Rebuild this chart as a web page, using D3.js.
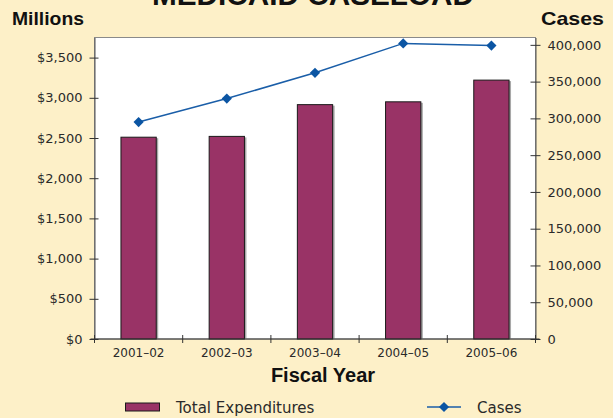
<!DOCTYPE html>
<html>
<head>
<meta charset="utf-8">
<script src="https://cdn.jsdelivr.net/npm/d3@7"></script>
<style>
  html, body { margin: 0; padding: 0; background: #fdf0c8; }
  svg { display: block; }
</style>
</head>
<body>
<svg id="chart" width="613" height="418"></svg>
<script>
// Medicaid expenditures (millions of dollars) and caseload by fiscal year
const years = ["2001–02", "2002–03", "2003–04", "2004–05", "2005–06"];
const expenditures = [2510, 2520, 2915, 2950, 3220];
const cases = [295000, 327000, 362000, 402000, 399000];
const leftTicks = [0, 500, 1000, 1500, 2000, 2500, 3000, 3500];
const rightTicks = [0, 50000, 100000, 150000, 200000, 250000, 300000, 350000, 400000];

const svg = d3.select("#chart");
const W = 613, H = 418;
const plot = { left: 94.5, right: 535.5, top: 37.5, bottom: 339 };

const x = d3.scaleBand().domain(years).range([plot.left, plot.right]).paddingInner(0).paddingOuter(0);
const yL = d3.scaleLinear().domain([0, 3750]).range([plot.bottom, plot.top]);
const yR = d3.scaleLinear().domain([0, 410000]).range([plot.bottom, plot.top]);

const barColor = "#993366";
const lineColor = "#1a5ea8";
const markColor = "#0b55a3";
const textColor = "#2a2a2a";
const tickFont = "'DejaVu Sans', sans-serif";
const boldFont = "'Liberation Sans', Arial, sans-serif";

svg.append("rect").attr("width", W).attr("height", H).attr("fill", "#fdf0c8");

// Title (runs off the top edge)
svg.append("text")
  .attr("x", 313).attr("y", 5)
  .attr("text-anchor", "middle")
  .attr("font-family", boldFont)
  .attr("font-weight", "bold")
  .attr("font-size", 30)
  .attr("textLength", 322)
  .attr("lengthAdjust", "spacingAndGlyphs")
  .attr("fill", "#111")
  .text("MEDICAID CASELOAD");

// Axis titles
svg.append("text").attr("x", 12).attr("y", 25)
  .attr("font-family", boldFont).attr("font-weight", "bold")
  .attr("font-size", 19).attr("textLength", 72).attr("lengthAdjust", "spacingAndGlyphs")
  .attr("fill", "#111").text("Millions");
svg.append("text").attr("x", 541).attr("y", 25)
  .attr("font-family", boldFont).attr("font-weight", "bold")
  .attr("font-size", 19).attr("textLength", 63).attr("lengthAdjust", "spacingAndGlyphs")
  .attr("fill", "#111").text("Cases");

// Plot background
svg.append("rect")
  .attr("x", plot.left).attr("y", plot.top)
  .attr("width", plot.right - plot.left).attr("height", plot.bottom - plot.top)
  .attr("fill", "#fff").attr("stroke", "#8a8a8a").attr("stroke-width", 1);

// Bars with a soft gray drop shadow
const barW = x.bandwidth() * 0.4;
const barX = d => x(d) + (x.bandwidth() - barW) / 2;
svg.append("g").selectAll("rect").data(years).join("rect")
  .attr("x", d => barX(d) + 2).attr("y", (d, i) => yL(expenditures[i]) + 1)
  .attr("width", barW).attr("height", (d, i) => plot.bottom - yL(expenditures[i]) - 1)
  .attr("fill", "#a8a8a8");
svg.append("g").selectAll("rect").data(years).join("rect")
  .attr("x", d => barX(d)).attr("y", (d, i) => yL(expenditures[i]))
  .attr("width", barW).attr("height", (d, i) => plot.bottom - yL(expenditures[i]))
  .attr("fill", barColor).attr("stroke", "#1a1a1a").attr("stroke-width", 1);

// Left axis
const leftAxis = d3.axisLeft(yL).tickValues(leftTicks)
  .tickFormat(d => "$" + d3.format(",")(d)).tickSizeInner(5).tickSizeOuter(0).tickPadding(7);
const gL = svg.append("g").attr("transform", `translate(${plot.left},0)`).call(leftAxis);
gL.select(".domain").attr("stroke", "#555");
gL.selectAll(".tick line").attr("stroke", "#333").attr("x2", 4).attr("x1", -5);
gL.selectAll(".tick text").attr("font-family", tickFont).attr("font-size", 13).attr("fill", textColor);

// Right axis
const rightAxis = d3.axisRight(yR).tickValues(rightTicks)
  .tickFormat(d3.format(",")).tickSizeInner(5).tickSizeOuter(0).tickPadding(7);
const gR = svg.append("g").attr("transform", `translate(${plot.right},0)`).call(rightAxis);
gR.select(".domain").attr("stroke", "#555");
gR.selectAll(".tick line").attr("stroke", "#333").attr("x1", -5).attr("x2", 5);
gR.selectAll(".tick text").attr("font-family", tickFont).attr("font-size", 13).attr("fill", textColor);

// Bottom axis: ticks at category boundaries, labels centred in each band
const gB = svg.append("g").attr("transform", `translate(0,${plot.bottom})`);
gB.append("line").attr("x1", plot.left - 4).attr("x2", plot.right + 4)
  .attr("stroke", "#333");
const bounds = years.map(d => x(d)).concat([plot.right]);
gB.selectAll("line.b").data(bounds).join("line").attr("class", "b")
  .attr("x1", d => d).attr("x2", d => d).attr("y1", -4).attr("y2", 4).attr("stroke", "#333");
gB.selectAll("text").data(years).join("text")
  .attr("x", d => x(d) + x.bandwidth() / 2).attr("y", 18)
  .attr("text-anchor", "middle").attr("font-family", tickFont).attr("font-size", 12)
  .attr("fill", textColor).text(d => d);

svg.append("text").attr("x", 323).attr("y", 382).attr("text-anchor", "middle")
  .attr("font-family", boldFont).attr("font-weight", "bold")
  .attr("font-size", 20).attr("fill", "#111").text("Fiscal Year");

// Cases line with diamond markers (squares turned 45°)
const cx = (d, i) => x(years[i]) + x.bandwidth() / 2;
const line = d3.line().x(cx).y(d => yR(d));
svg.append("path").datum(cases).attr("d", line)
  .attr("fill", "none").attr("stroke", lineColor).attr("stroke-width", 1.5);
const diamond = d3.symbol().type(d3.symbolSquare).size(52);
svg.append("g").selectAll("path").data(cases).join("path")
  .attr("transform", (d, i) => `translate(${cx(d, i)},${yR(d)}) rotate(45)`)
  .attr("d", diamond).attr("fill", markColor);

// Legend
const lg = svg.append("g");
lg.append("rect").attr("x", 125.5).attr("y", 403).attr("width", 34).attr("height", 8)
  .attr("fill", barColor).attr("stroke", "#1a1a1a").attr("stroke-width", 1);
lg.append("text").attr("x", 176).attr("y", 413).attr("font-family", tickFont)
  .attr("font-size", 15).attr("fill", textColor).text("Total Expenditures");
lg.append("line").attr("x1", 427).attr("x2", 461).attr("y1", 407).attr("y2", 407)
  .attr("stroke", lineColor).attr("stroke-width", 1.5);
lg.append("path").attr("transform", "translate(444,407) rotate(45)").attr("d", diamond).attr("fill", markColor);
lg.append("text").attr("x", 477).attr("y", 413).attr("font-family", tickFont)
  .attr("font-size", 15).attr("fill", textColor).text("Cases");
</script>
</body>
</html>
